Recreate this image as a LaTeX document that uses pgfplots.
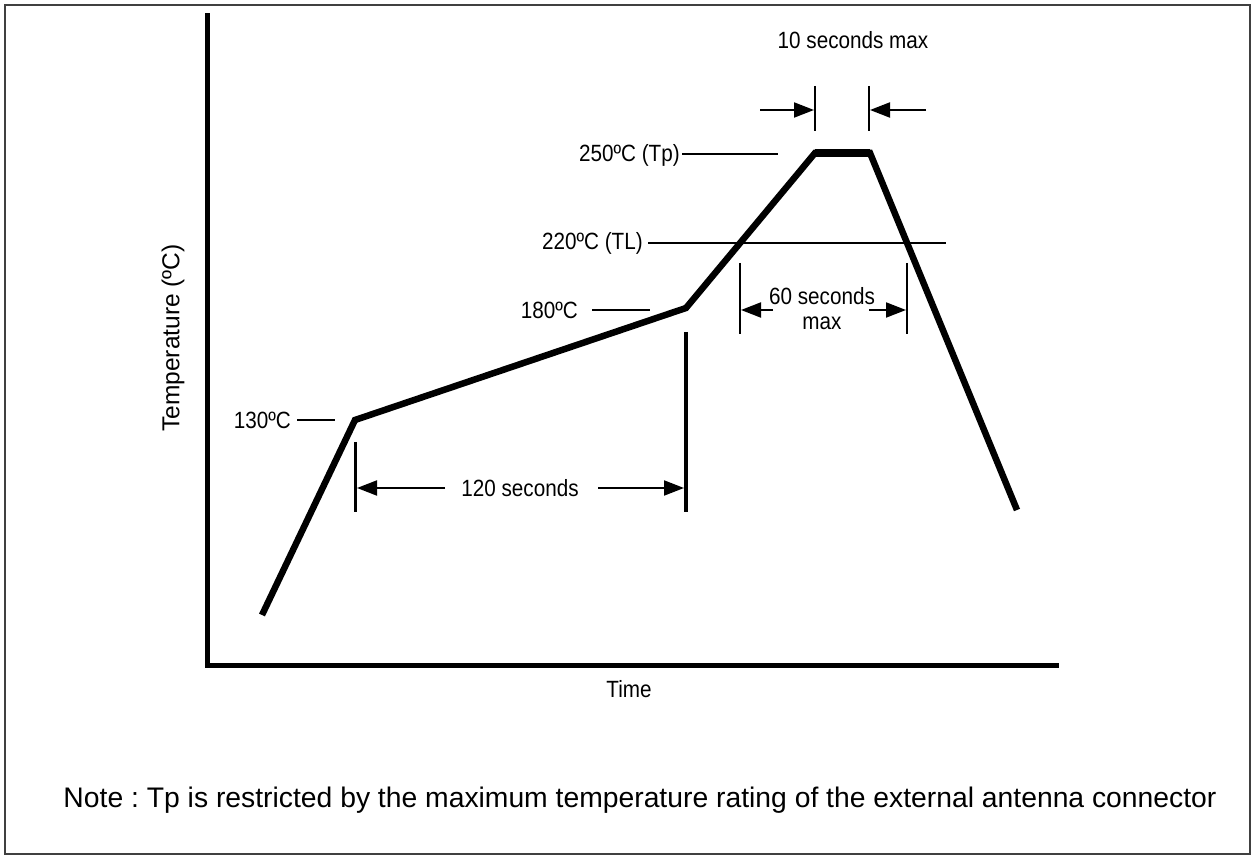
\documentclass[border=0pt]{standalone}
\usepackage{fontspec}
\setmainfont{Liberation Sans}[FakeStretch=0.88]
\newfontfamily\plainfont{Liberation Sans}
\usepackage{pgfplots}
\pgfplotsset{compat=1.18}
\usetikzlibrary{arrows.meta}
\begin{document}
\frenchspacing
\fontsize{23.5}{28}\selectfont
\begin{tikzpicture}
\begin{axis}[scale only axis, width=1254pt, height=858pt,
  xmin=0, xmax=1254, ymin=0, ymax=858, y dir=reverse,
  hide axis, clip=false]
% bounding box and frame
\path (axis cs:0,0) rectangle (axis cs:1254,858);
\draw[line width=2pt, black!75] (axis cs:5,5) rectangle (axis cs:1250,854);
% axes
\draw[line width=5pt, line cap=rect] (axis cs:207,16) -- (axis cs:207,665) -- (axis cs:1056,665);
% profile
\addplot[line width=6.5pt, line join=miter, mark=none] coordinates {
  (262,615) (355,420) (686,308) (815,153) (870,153) (1017,510)};
\addplot[line width=8pt, mark=none] coordinates {(815,153) (870,153)};
% level markers
\draw[line width=2.5pt] (axis cs:682,154) -- (axis cs:778,154);
\draw[line width=2pt] (axis cs:648,243) -- (axis cs:946,243);
\draw[line width=2pt] (axis cs:592,310) -- (axis cs:650,310);
\draw[line width=2pt] (axis cs:297,420) -- (axis cs:335,420);
\node[anchor=east, inner sep=0] at (axis cs:680,155) {250ºC (Tp)};
\node[anchor=east, inner sep=0] at (axis cs:643,243) {220ºC (TL)};
\node[anchor=east, inner sep=0] at (axis cs:578,310) {180ºC};
\node[anchor=east, inner sep=0] at (axis cs:291,420) {130ºC};
% 10 seconds max
\draw[line width=2pt] (axis cs:815,86) -- (axis cs:815,131);
\draw[line width=2pt] (axis cs:869,86) -- (axis cs:869,131);
\draw[line width=2pt, -{Triangle[length=20pt,width=15pt]}] (axis cs:760,110) -- (axis cs:814,110);
\draw[line width=2pt, -{Triangle[length=20pt,width=15pt]}] (axis cs:926,110) -- (axis cs:870,110);
\node at (axis cs:853,40) {10 seconds max};
% 60 seconds max
\draw[line width=2.5pt] (axis cs:740,263) -- (axis cs:740,334);
\draw[line width=2.5pt] (axis cs:907,263) -- (axis cs:907,334);
\draw[line width=2pt, -{Triangle[length=20pt,width=15pt]}] (axis cs:773,310) -- (axis cs:741,310);
\draw[line width=2pt, -{Triangle[length=20pt,width=15pt]}] (axis cs:869,310) -- (axis cs:906,310);
\node at (axis cs:822,296) {60 seconds};
\node at (axis cs:822,323) {max};
% 120 seconds
\draw[line width=3pt] (axis cs:355,442) -- (axis cs:355,512);
\draw[line width=4pt] (axis cs:686,332) -- (axis cs:686,512);
\draw[line width=2pt, -{Triangle[length=20pt,width=15pt]}] (axis cs:445,488) -- (axis cs:357,488);
\draw[line width=2pt, -{Triangle[length=20pt,width=15pt]}] (axis cs:598,488) -- (axis cs:684,488);
\node at (axis cs:520,488) {120 seconds};
% axis labels
\node[rotate=90, font=\plainfont\fontsize{24.5}{28}\selectfont] at (axis cs:173,338) {Temperature (ºC)};
\node at (axis cs:629,689) {Time};
\node[font=\plainfont\fontsize{28.3}{32}\selectfont] at (axis cs:640,800) {Note : Tp is restricted by the maximum temperature rating of the external antenna connector};
\end{axis}
\end{tikzpicture}
\end{document}
